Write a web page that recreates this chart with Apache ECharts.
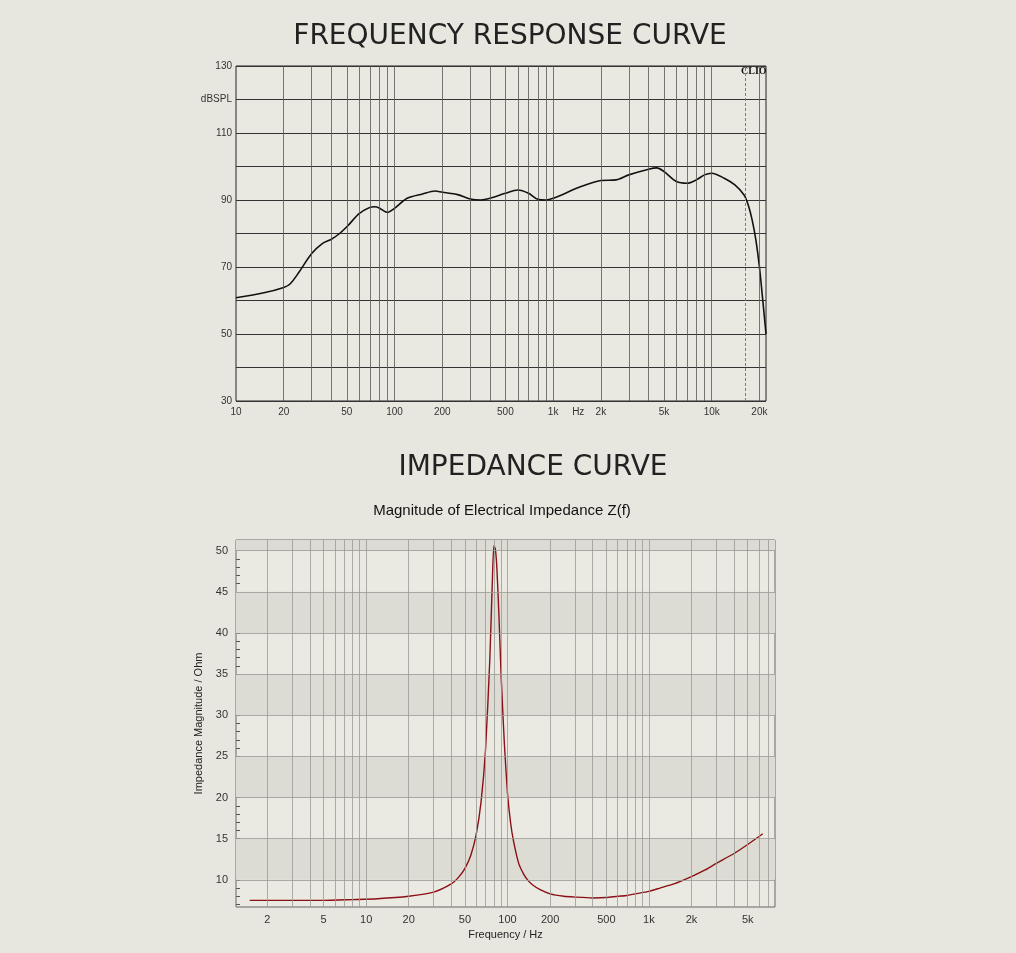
<!DOCTYPE html>
<html>
<head>
<meta charset="utf-8">
<script src="https://cdn.jsdelivr.net/npm/echarts@6/dist/echarts.min.js"></script>
<style>
  html, body { margin: 0; padding: 0; background: #e8e7df; }
  #chart { width: 1016px; height: 953px; }
</style>
</head>
<body>
<div id="chart"></div>
<script>
// frequency response (Hz, dBSPL)
const frFreq = [10, 15, 20, 22, 25, 30, 35, 40, 45, 50, 60, 70, 75, 80, 90, 100, 120, 150, 180, 200, 250, 300, 350, 400, 500, 600, 700, 800, 900, 1000, 1500, 2000, 2500, 3000, 4000, 4500, 5000, 6000, 7000, 8000, 9000, 10000, 12000, 14000, 16000, 17000, 18000, 19000, 20000, 21000, 22000];
const frSpl = [60.8, 62.3, 63.9, 65, 68.5, 74, 77, 78.3, 80, 82, 86, 87.8, 88, 87.6, 86.3, 87.5, 90.5, 91.8, 92.7, 92.3, 91.6, 90.3, 90, 90.5, 92, 93, 92, 90.2, 90, 90.5, 94, 95.8, 96, 97.5, 99.2, 99.6, 98.5, 95.5, 95, 96, 97.5, 98, 96.5, 94.5, 91.5, 88.5, 84, 78, 70, 60, 50];
const frTickVals = [10, 20, 50, 100, 200, 500, 1000, 1440, 2000, 5000, 10000, 20000];
const frTickText = ['10', '20', '50', '100', '200', '500', '1k', 'Hz', '2k', '5k', '10k', '20k'];
const frYTicks = [30, 50, 70, 90, 110, 120, 130];

// impedance (Hz, Ohm)
const zFreq = [1.5, 3, 5, 8, 12, 20, 30, 40, 45, 50, 55, 60, 65, 70, 75, 78, 80, 82, 84, 87, 90, 95, 100, 105, 110, 120, 130, 140, 150, 170, 200, 250, 300, 400, 500, 600, 700, 800, 1000, 1200, 1500, 2000, 2500, 3000, 4000, 5000, 6400];
const zMag = [7.5, 7.5, 7.5, 7.6, 7.7, 8.0, 8.5, 9.5, 10.3, 11.4, 13, 15.5, 19.5, 26, 37, 46, 50.6, 50.2, 48, 42, 35, 26.5, 20.5, 17, 14.8, 12, 10.7, 9.9, 9.4, 8.8, 8.3, 8.0, 7.9, 7.8, 7.85, 8.0, 8.1, 8.3, 8.6, 9.0, 9.5, 10.4, 11.2, 12, 13.2, 14.3, 15.6];
const zTickVals = [2, 5, 10, 20, 50, 100, 200, 500, 1000, 2000, 5000];
const zTickText = ['2', '5', '10', '20', '50', '100', '200', '500', '1k', '2k', '5k'];
const zYTicks = [10, 15, 20, 25, 30, 35, 40, 45, 50];
const zBands = [[10, 15], [20, 25], [30, 35], [40, 45], [50, 51.3]];

function decadeLines(lo, hi) {
    const out = [];
    for (let d = 1; d <= 10000; d *= 10) {
        for (let m = 1; m <= 9; m++) {
            const v = m * d;
            if (v > lo && v < hi) out.push(v);
        }
    }
    return out;
}

const chart = echarts.init(document.getElementById('chart'));
const frVLines = decadeLines(10, 22000);
const zVLines = decadeLines(1.2, 7800);
const zHLines = [];
for (let v = 10; v <= 50; v += 5) zHLines.push(v);

const axisFont = {fontFamily: 'Liberation Sans', color: '#333'};
const headStyle = {fontFamily: 'DejaVu Sans', fontSize: 28, fontWeight: 'normal', color: '#222'};

chart.setOption({
    backgroundColor: '#e8e7df',
    animation: false,
    title: [
        {text: 'FREQUENCY RESPONSE CURVE', left: 505, textAlign: 'center', top: 18, textStyle: headStyle},
        {text: 'IMPEDANCE CURVE', left: 528, textAlign: 'center', top: 449, textStyle: headStyle},
        {text: 'Magnitude of Electrical Impedance Z(f)', left: 497, textAlign: 'center', top: 498,
         textStyle: {fontFamily: 'Liberation Sans', fontSize: 15, fontWeight: 'normal', color: '#111'}}
    ],
    graphic: [
        {type: 'text', left: 741, top: 66, style: {text: 'CLIO', font: 'bold 10px Liberation Serif', fill: '#111'}},
        {type: 'text', left: 739, top: 545, style: {text: 'KLIPPEL', font: 'bold 8px Liberation Sans', fill: '#2a4d7a'}}
    ],
    grid: [
        {left: 236, top: 66, width: 530, height: 335, show: true, backgroundColor: '#eae9e1', borderColor: '#222', borderWidth: 1},
        {left: 236, top: 540, width: 539, height: 367, show: true, backgroundColor: '#ebeae2', borderColor: '#666', borderWidth: 1}
    ],
    xAxis: [
        {type: 'log', gridIndex: 0, min: 10, max: 22000, logBase: 10,
         axisLine: {show: false}, axisTick: {show: false}, splitLine: {show: false},
         axisLabel: {customValues: frTickVals, fontSize: 10, ...axisFont, margin: 6,
             formatter: v => frTickText[frTickVals.findIndex(t => Math.abs(t - v) / t < 0.01)] || ''}},
        {type: 'log', gridIndex: 1, min: 1.2, max: 7800, logBase: 10,
         name: 'Frequency / Hz', nameLocation: 'middle', nameGap: 22,
         nameTextStyle: {fontFamily: 'Liberation Sans', fontSize: 11, color: '#222'},
         axisLine: {show: false}, axisTick: {show: false}, splitLine: {show: false},
         axisLabel: {customValues: zTickVals, fontSize: 11, ...axisFont, margin: 7,
             formatter: v => zTickText[zTickVals.findIndex(t => Math.abs(t - v) / t < 0.01)] || ''}}
    ],
    yAxis: [
        {type: 'value', gridIndex: 0, min: 30, max: 130, interval: 10,
         axisLine: {show: false}, axisTick: {show: false},
         splitLine: {lineStyle: {color: '#333', width: 1}},
         axisLabel: {customValues: frYTicks, fontSize: 10, ...axisFont, margin: 4,
             formatter: v => v === 120 ? 'dBSPL' : String(v)}},
        {type: 'value', gridIndex: 1, min: 6.7, max: 51.3,
         name: 'Impedance Magnitude / Ohm', nameLocation: 'middle', nameGap: 28,
         nameTextStyle: {fontFamily: 'Liberation Sans', fontSize: 11, color: '#222'},
         axisLine: {show: false}, splitLine: {show: false},
         axisTick: {show: true, inside: true, customValues: [7, 8, 9, 10, 11, 12, 13, 14, 15, 16, 17, 18, 19, 20, 21, 22, 23, 24, 25, 26, 27, 28, 29, 30, 31, 32, 33, 34, 35, 36, 37, 38, 39, 40, 41, 42, 43, 44, 45, 46, 47, 48, 49, 50, 51], length: 4, lineStyle: {color: '#555'}},
         axisLabel: {customValues: zYTicks, fontSize: 11, ...axisFont, margin: 8}}
    ],
    series: [
        {type: 'line', xAxisIndex: 0, yAxisIndex: 0, showSymbol: false, smooth: 0.3,
         data: frFreq.map((f, i) => [f, frSpl[i]]),
         lineStyle: {color: '#111', width: 1.6},
         markLine: {silent: true, symbol: 'none', label: {show: false},
             data: frVLines.map(v => ({xAxis: v, lineStyle: {color: '#555', width: 0.8, type: 'solid'}}))
                 .concat([{xAxis: 16300, lineStyle: {color: '#e05050', width: 1, type: [3, 2]}}])}},
        {type: 'line', xAxisIndex: 1, yAxisIndex: 1, showSymbol: false, smooth: 0.2,
         data: zFreq.map((f, i) => [f, zMag[i]]),
         lineStyle: {color: '#8a1016', width: 1.4},
         markArea: {silent: true, itemStyle: {color: '#dddcd4'},
             data: zBands.map(b => [{yAxis: b[0]}, {yAxis: b[1]}])},
         markLine: {silent: true, symbol: 'none', label: {show: false},
             data: zVLines.map(v => ({xAxis: v, lineStyle: {color: '#9a9a96', width: 0.8, type: 'solid'}}))
                 .concat(zHLines.map(v => ({yAxis: v, lineStyle: {color: '#9a9a96', width: 0.8, type: 'solid'}})))}}
    ]
});
</script>
</body>
</html>
